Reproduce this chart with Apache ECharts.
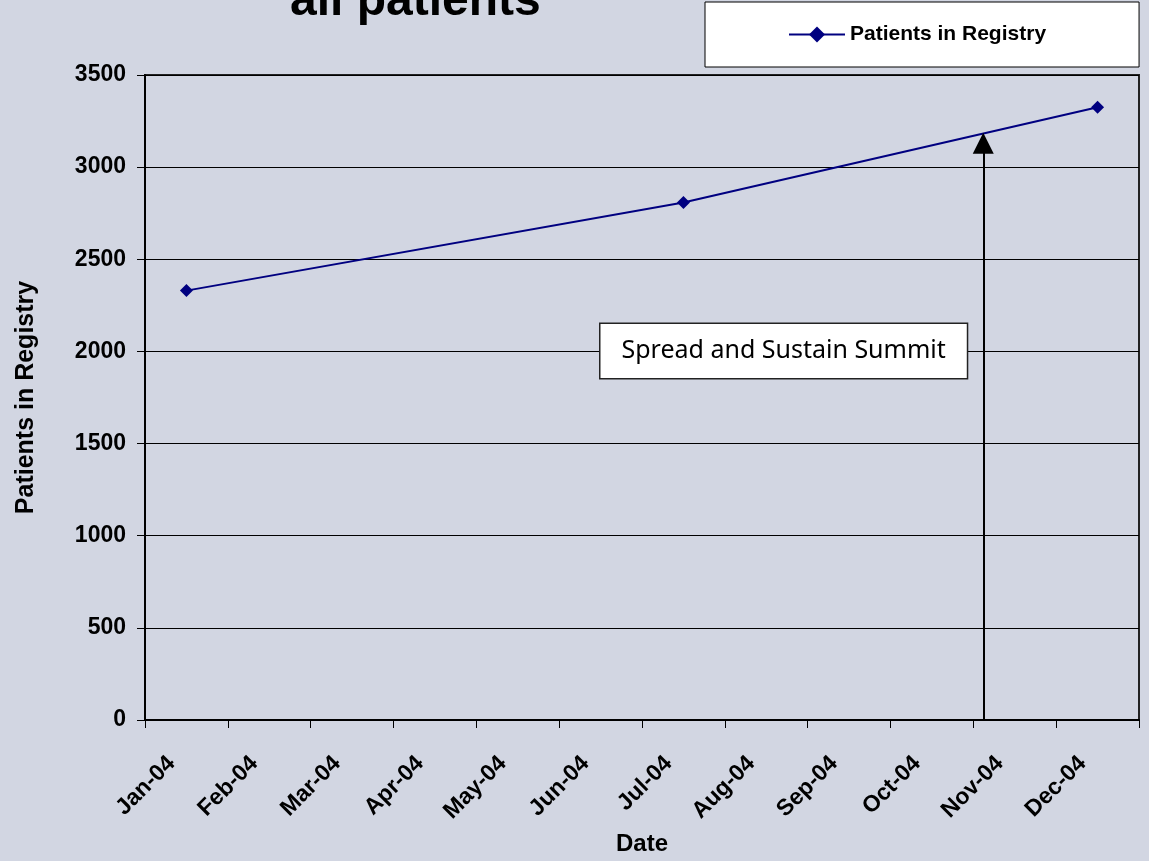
<!DOCTYPE html>
<html>
<head>
<meta charset="utf-8">
<style>
  html, body { margin: 0; padding: 0; background: #d2d6e2; }
  #chart { width: 1149px; height: 861px; }
</style>
<script src="https://cdn.jsdelivr.net/npm/echarts@6/dist/echarts.min.js"></script>
</head>
<body>
<div id="chart"></div>
<script>
// month index 0 = 1 Jan 2004, 12 = 1 Jan 2005
const monthLabels = ["Jan-04", "Feb-04", "Mar-04", "Apr-04", "May-04", "Jun-04",
  "Jul-04", "Aug-04", "Sep-04", "Oct-04", "Nov-04", "Dec-04"];
const pointMonths = [0.5, 6.5, 11.5];
const patients = [2330, 2808, 3325];

// summit marker (early Nov 2004)
const summitMonth = 10.12;
const summitArrowTop = 3130;
const summitText = "Spread and Sustain Summit";
const summitBox = [7.71, 2003];

const labelShift = 0.32;
const axisFont = "'Liberation Sans', Arial, sans-serif";

const chart = echarts.init(document.getElementById("chart"), null, { renderer: "canvas" });

const option = {
  backgroundColor: "#d2d6e2",
  animation: false,
  title: {
    text: "all patients",
    left: 285,
    top: -27,
    textStyle: { fontFamily: axisFont, fontSize: 48, fontWeight: "bold", color: "#000" },
  },
  legend: {
    left: 705,
    top: 2,
    backgroundColor: "#fff",
    borderColor: "#000",
    borderWidth: 1,
    borderRadius: 0,
    padding: [22, 93, 22, 83],
    itemWidth: 56,
    itemHeight: 20,
    itemGap: 6,
    textStyle: { fontFamily: axisFont, fontSize: 21, fontWeight: "bold", color: "#000" },
    data: ["Patients in Registry"],
  },
  grid: {
    left: 145,
    right: 10,
    top: 75,
    bottom: 138,
    show: true,
    borderColor: "#222",
    borderWidth: 2,
    backgroundColor: "transparent",
  },
  xAxis: {
    type: "value",
    min: 0,
    max: 12,
    interval: 1,
    name: "Date",
    nameLocation: "middle",
    nameGap: 112,
    nameTextStyle: { fontFamily: axisFont, fontSize: 24, fontWeight: "bold", color: "#000" },
    axisLine: { show: true, onZero: false, lineStyle: { color: "#000", width: 2 } },
    axisTick: { show: true, inside: false, length: 8, lineStyle: { color: "#000", width: 1 } },
    splitLine: { show: false },
    axisLabel: {
      rotate: 45,
      margin: 40,
      customValues: monthLabels.map((_, i) => i + labelShift),
      formatter: (v) => monthLabels[Math.floor(v)] || "",
      fontFamily: axisFont,
      fontSize: 23,
      fontWeight: "bold",
      color: "#000",
    },
  },
  yAxis: {
    type: "value",
    min: 0,
    max: 3500,
    interval: 500,
    name: "Patients in Registry",
    nameLocation: "middle",
    nameGap: 106,
    nameTextStyle: { fontFamily: axisFont, fontSize: 25, fontWeight: "bold", color: "#000" },
    axisLine: { show: true, lineStyle: { color: "#000", width: 2 } },
    axisTick: { show: true, inside: false, length: 8, lineStyle: { color: "#000", width: 1 } },
    splitLine: { show: true, lineStyle: { color: "#000", width: 1 } },
    axisLabel: {
      margin: 19,
      formatter: (v) => String(v),
      fontFamily: axisFont,
      fontSize: 23,
      fontWeight: "bold",
      color: "#000",
    },
  },
  series: [
    {
      name: "Patients in Registry",
      type: "line",
      data: pointMonths.map((m, i) => [m, patients[i]]),
      symbol: "diamond",
      symbolSize: 13,
      lineStyle: { color: "#000080", width: 2 },
      itemStyle: { color: "#000080" },
      markLine: {
        silent: true,
        animation: false,
        label: { show: false },
        lineStyle: { color: "#000", width: 2, type: "solid" },
        data: [
          [
            { coord: [summitMonth, 0], symbol: "none" },
            { coord: [summitMonth, summitArrowTop], symbol: "triangle", symbolSize: 21 },
          ],
        ],
      },
      markPoint: {
        silent: true,
        animation: false,
        data: [
          {
            coord: summitBox,
            symbol: "rect",
            symbolSize: 0,
            label: {
              show: true,
              position: "inside",
              formatter: summitText,
              fontFamily: "'Noto Sans', sans-serif",
              fontSize: 25,
              lineHeight: 30,
              color: "#000",
              backgroundColor: "#fff",
              borderColor: "#222",
              borderWidth: 1.5,
              padding: [12, 21, 12, 21],
            },
          },
        ],
      },
    },
  ],
};

chart.setOption(option);
</script>
</body>
</html>
